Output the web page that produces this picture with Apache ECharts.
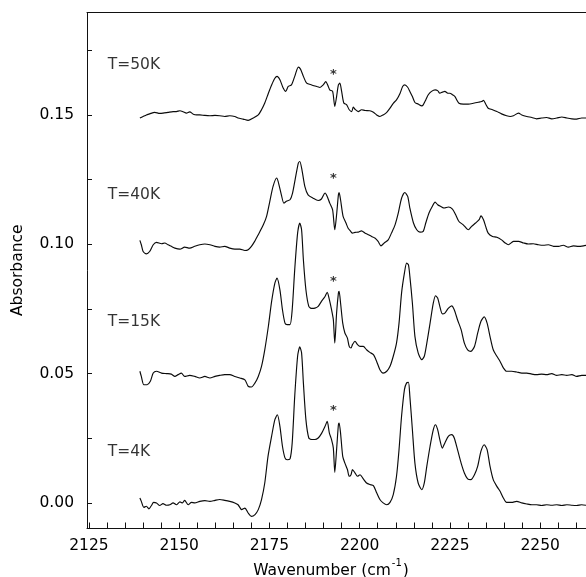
<!DOCTYPE html>
<html>
<head>
<meta charset="utf-8">
<script src="https://cdn.jsdelivr.net/npm/echarts@6/dist/echarts.min.js"></script>
<style>
html,body{margin:0;padding:0;background:#fff;}
#chart{width:586px;height:577px;}
</style>
</head>
<body>
<div id="chart"></div>
<script>
// ---- data (wavenumber cm^-1, absorbance) ----
const spectrum50K = [[2139.1,0.1488],[2140.0,0.1494],[2140.9,0.1500],[2141.8,0.1504],[2143.2,0.1510],[2144.6,0.1506],[2145.5,0.1507],[2146.9,0.1510],[2148.3,0.1513],[2149.2,0.1513],[2150.2,0.1516],[2151.1,0.1512],[2152.0,0.1507],[2152.9,0.1512],[2153.9,0.1503],[2154.8,0.1500],[2155.7,0.1500],[2157.1,0.1498],[2158.5,0.1497],[2159.9,0.1498],[2161.2,0.1497],[2162.6,0.1494],[2164.0,0.1497],[2165.4,0.1494],[2166.3,0.1488],[2167.7,0.1484],[2169.1,0.1479],[2170.5,0.1488],[2171.9,0.1500],[2172.8,0.1520],[2173.7,0.1546],[2174.7,0.1584],[2175.6,0.1616],[2176.5,0.1642],[2177.1,0.1649],[2177.9,0.1636],[2178.8,0.1604],[2179.5,0.1591],[2180.2,0.1610],[2181.1,0.1616],[2182.0,0.1649],[2183.0,0.1685],[2183.6,0.1677],[2184.4,0.1649],[2185.3,0.1623],[2186.7,0.1616],[2188.1,0.1610],[2189.0,0.1606],[2189.9,0.1616],[2190.6,0.1629],[2191.3,0.1610],[2191.7,0.1597],[2192.5,0.1591],[2193.1,0.1533],[2193.6,0.1571],[2194.1,0.1616],[2194.5,0.1623],[2195.0,0.1591],[2195.6,0.1546],[2196.4,0.1539],[2197.1,0.1520],[2197.8,0.1513],[2198.2,0.1530],[2198.7,0.1522],[2199.6,0.1513],[2200.5,0.1520],[2201.5,0.1517],[2202.8,0.1516],[2203.8,0.1510],[2204.7,0.1500],[2205.6,0.1494],[2206.5,0.1500],[2207.5,0.1510],[2208.4,0.1526],[2209.3,0.1545],[2210.2,0.1558],[2211.2,0.1584],[2211.9,0.1610],[2212.5,0.1616],[2213.3,0.1607],[2213.9,0.1591],[2214.6,0.1571],[2215.3,0.1548],[2216.2,0.1542],[2217.2,0.1535],[2217.6,0.1539],[2218.3,0.1558],[2219.0,0.1578],[2219.9,0.1591],[2220.9,0.1597],[2221.6,0.1594],[2222.2,0.1584],[2222.9,0.1588],[2223.6,0.1591],[2224.4,0.1584],[2225.0,0.1584],[2225.7,0.1578],[2226.4,0.1571],[2226.9,0.1558],[2227.5,0.1545],[2228.7,0.1542],[2230.1,0.1542],[2231.5,0.1545],[2232.9,0.1549],[2233.8,0.1552],[2234.3,0.1556],[2234.9,0.1542],[2235.6,0.1526],[2236.8,0.1520],[2238.0,0.1513],[2239.3,0.1504],[2240.7,0.1497],[2241.7,0.1494],[2242.6,0.1497],[2244.0,0.1507],[2244.9,0.1500],[2246.3,0.1494],[2247.7,0.1490],[2249.0,0.1485],[2250.4,0.1488],[2251.8,0.1490],[2253.2,0.1485],[2254.6,0.1488],[2256.0,0.1492],[2257.4,0.1488],[2258.8,0.1485],[2260.1,0.1484],[2261.5,0.1488],[2262.7,0.1488]];

const spectrum40K = [[2139.1,0.1015],[2139.5,0.0998],[2140.0,0.0972],[2140.9,0.0963],[2141.8,0.0972],[2142.8,0.0998],[2143.7,0.1007],[2145.1,0.1002],[2146.0,0.1005],[2146.9,0.0998],[2147.8,0.0992],[2148.8,0.0985],[2150.2,0.0981],[2151.5,0.0989],[2152.9,0.0985],[2154.3,0.0992],[2155.7,0.0998],[2157.1,0.1001],[2158.5,0.0998],[2159.9,0.0992],[2161.2,0.0989],[2162.6,0.0992],[2164.0,0.0985],[2165.4,0.0981],[2166.8,0.0981],[2168.2,0.0976],[2169.1,0.0979],[2170.0,0.0992],[2170.9,0.1011],[2171.9,0.1037],[2173.3,0.1075],[2174.2,0.1108],[2175.1,0.1166],[2176.0,0.1224],[2177.0,0.1256],[2177.4,0.1243],[2178.3,0.1191],[2179.0,0.1159],[2179.7,0.1166],[2180.7,0.1172],[2181.4,0.1198],[2182.1,0.1249],[2183.0,0.1314],[2183.4,0.1320],[2184.0,0.1288],[2184.8,0.1224],[2185.7,0.1191],[2187.1,0.1178],[2188.5,0.1169],[2189.4,0.1175],[2190.4,0.1198],[2191.0,0.1185],[2191.7,0.1159],[2192.5,0.1133],[2193.1,0.1056],[2193.6,0.1114],[2194.1,0.1191],[2194.3,0.1200],[2194.7,0.1172],[2195.4,0.1108],[2196.2,0.1082],[2196.8,0.1062],[2197.5,0.1050],[2198.0,0.1043],[2198.7,0.1046],[2199.6,0.1047],[2200.5,0.1052],[2201.5,0.1043],[2202.4,0.1037],[2203.3,0.1030],[2204.2,0.1024],[2205.1,0.1011],[2205.9,0.0994],[2206.8,0.1005],[2207.9,0.1017],[2208.8,0.1043],[2209.8,0.1075],[2210.7,0.1121],[2211.6,0.1178],[2212.5,0.1200],[2213.3,0.1185],[2213.9,0.1140],[2214.9,0.1082],[2215.8,0.1056],[2216.7,0.1047],[2217.6,0.1050],[2218.3,0.1082],[2219.2,0.1121],[2220.1,0.1146],[2220.9,0.1163],[2221.6,0.1153],[2222.5,0.1146],[2223.4,0.1140],[2224.6,0.1144],[2225.7,0.1136],[2226.6,0.1114],[2227.5,0.1088],[2228.7,0.1075],[2230.1,0.1056],[2231.0,0.1069],[2232.1,0.1082],[2233.1,0.1095],[2233.6,0.1110],[2234.3,0.1095],[2234.9,0.1069],[2235.6,0.1043],[2236.8,0.1030],[2238.0,0.1027],[2239.3,0.1017],[2240.3,0.1005],[2241.2,0.0998],[2242.6,0.1011],[2244.0,0.1011],[2245.4,0.1005],[2246.7,0.1001],[2248.1,0.1002],[2249.5,0.0998],[2250.9,0.0996],[2252.3,0.0998],[2253.7,0.0992],[2255.1,0.0992],[2256.4,0.0996],[2257.8,0.0989],[2259.2,0.0994],[2260.6,0.0992],[2262.0,0.0994],[2262.7,0.0996]];

const spectrum15K = [[2139.1,0.0509],[2139.5,0.0489],[2140.2,0.0457],[2141.1,0.0457],[2142.0,0.0470],[2142.8,0.0502],[2143.7,0.0509],[2145.1,0.0502],[2146.5,0.0500],[2147.8,0.0498],[2148.8,0.0489],[2149.7,0.0496],[2150.6,0.0502],[2151.5,0.0489],[2152.9,0.0493],[2154.3,0.0489],[2155.7,0.0483],[2157.1,0.0489],[2158.5,0.0483],[2159.9,0.0489],[2161.2,0.0493],[2162.6,0.0496],[2164.0,0.0496],[2165.4,0.0489],[2166.8,0.0483],[2168.2,0.0476],[2169.1,0.0451],[2170.0,0.0448],[2171.0,0.0464],[2171.9,0.0489],[2172.8,0.0528],[2173.7,0.0592],[2174.7,0.0683],[2175.6,0.0779],[2176.5,0.0850],[2177.1,0.0869],[2177.9,0.0824],[2178.6,0.0747],[2179.3,0.0695],[2179.9,0.0689],[2180.7,0.0689],[2181.3,0.0747],[2182.0,0.0902],[2182.8,0.1043],[2183.4,0.1082],[2183.9,0.1056],[2184.4,0.0940],[2185.1,0.0824],[2185.9,0.0760],[2186.7,0.0752],[2187.6,0.0753],[2188.5,0.0760],[2189.4,0.0779],[2190.4,0.0798],[2191.0,0.0814],[2191.6,0.0786],[2192.2,0.0747],[2192.7,0.0708],[2193.1,0.0618],[2193.6,0.0734],[2194.1,0.0811],[2194.3,0.0818],[2194.7,0.0773],[2195.3,0.0695],[2195.9,0.0657],[2196.6,0.0637],[2197.1,0.0605],[2197.6,0.0599],[2198.0,0.0612],[2198.7,0.0625],[2199.4,0.0612],[2200.1,0.0605],[2201.0,0.0605],[2201.9,0.0592],[2202.8,0.0582],[2203.8,0.0573],[2204.7,0.0547],[2205.6,0.0515],[2206.5,0.0502],[2207.5,0.0509],[2208.4,0.0528],[2209.3,0.0567],[2210.2,0.0618],[2210.9,0.0695],[2211.6,0.0811],[2212.4,0.0889],[2213.0,0.0927],[2213.5,0.0921],[2213.9,0.0876],[2214.6,0.0773],[2215.3,0.0644],[2216.2,0.0580],[2217.2,0.0554],[2217.9,0.0567],[2218.6,0.0618],[2219.5,0.0695],[2220.4,0.0773],[2221.0,0.0801],[2221.6,0.0792],[2222.2,0.0760],[2222.9,0.0731],[2223.6,0.0734],[2224.6,0.0753],[2225.5,0.0762],[2226.2,0.0747],[2227.1,0.0708],[2228.1,0.0670],[2229.0,0.0618],[2229.9,0.0592],[2230.8,0.0586],[2231.8,0.0605],[2232.7,0.0657],[2233.6,0.0702],[2234.5,0.0719],[2235.3,0.0695],[2236.1,0.0644],[2237.0,0.0592],[2238.0,0.0567],[2238.9,0.0547],[2239.8,0.0522],[2240.7,0.0509],[2242.1,0.0509],[2243.5,0.0506],[2244.9,0.0502],[2246.3,0.0502],[2247.7,0.0498],[2249.0,0.0496],[2250.4,0.0498],[2251.8,0.0496],[2253.2,0.0500],[2254.6,0.0493],[2256.0,0.0496],[2257.4,0.0493],[2258.8,0.0496],[2260.1,0.0489],[2261.5,0.0493],[2262.7,0.0493]];

const spectrum4K = [[2139.1,0.0019],[2139.5,0.0006],[2140.2,-0.0017],[2140.9,-0.0013],[2141.6,-0.0023],[2142.3,-0.0010],[2142.9,0.0002],[2143.7,0.0000],[2144.6,-0.0010],[2145.5,-0.0003],[2146.5,-0.0009],[2147.4,-0.0007],[2148.3,0.0000],[2149.2,-0.0007],[2150.2,0.0004],[2150.9,0.0000],[2151.5,0.0010],[2152.5,-0.0007],[2153.4,0.0002],[2154.3,0.0000],[2155.7,0.0006],[2157.1,0.0009],[2158.5,0.0006],[2159.9,0.0010],[2161.2,0.0013],[2162.6,0.0010],[2164.0,0.0006],[2165.4,0.0000],[2166.3,-0.0007],[2167.3,-0.0026],[2168.2,-0.0020],[2169.1,-0.0039],[2170.0,-0.0052],[2171.0,-0.0045],[2171.9,-0.0026],[2172.8,0.0013],[2173.7,0.0077],[2174.6,0.0180],[2175.6,0.0258],[2176.5,0.0322],[2177.2,0.0341],[2177.9,0.0296],[2178.6,0.0219],[2179.3,0.0174],[2179.9,0.0167],[2180.7,0.0170],[2181.3,0.0232],[2182.0,0.0412],[2182.8,0.0567],[2183.4,0.0603],[2183.9,0.0580],[2184.4,0.0464],[2185.1,0.0322],[2185.9,0.0251],[2186.7,0.0245],[2187.6,0.0245],[2188.5,0.0251],[2189.4,0.0268],[2190.4,0.0296],[2191.0,0.0315],[2191.6,0.0270],[2192.2,0.0245],[2192.7,0.0212],[2193.1,0.0118],[2193.6,0.0206],[2194.1,0.0302],[2194.3,0.0309],[2194.7,0.0270],[2195.3,0.0180],[2195.9,0.0154],[2196.6,0.0129],[2197.1,0.0103],[2197.6,0.0109],[2198.0,0.0129],[2198.7,0.0116],[2199.4,0.0103],[2200.1,0.0109],[2201.0,0.0093],[2201.9,0.0077],[2202.8,0.0071],[2203.8,0.0067],[2204.7,0.0039],[2205.6,0.0013],[2206.5,0.0000],[2207.5,-0.0007],[2208.4,0.0002],[2209.3,0.0032],[2210.2,0.0103],[2210.9,0.0206],[2211.6,0.0335],[2212.4,0.0438],[2213.0,0.0464],[2213.5,0.0466],[2213.9,0.0412],[2214.6,0.0283],[2215.3,0.0154],[2216.2,0.0077],[2217.2,0.0051],[2217.9,0.0077],[2218.6,0.0142],[2219.5,0.0219],[2220.4,0.0283],[2221.0,0.0302],[2221.6,0.0283],[2222.2,0.0245],[2222.9,0.0212],[2223.6,0.0232],[2224.6,0.0258],[2225.5,0.0264],[2226.2,0.0251],[2227.1,0.0206],[2228.1,0.0154],[2229.0,0.0116],[2229.9,0.0093],[2230.8,0.0090],[2231.8,0.0109],[2232.7,0.0142],[2233.6,0.0200],[2234.5,0.0225],[2235.3,0.0206],[2236.1,0.0142],[2237.0,0.0090],[2238.0,0.0064],[2238.9,0.0045],[2239.8,0.0019],[2240.7,0.0002],[2242.1,0.0002],[2243.5,0.0006],[2244.9,0.0000],[2246.3,-0.0004],[2247.7,-0.0007],[2249.0,-0.0007],[2250.4,-0.0010],[2251.8,-0.0007],[2253.2,-0.0009],[2254.6,-0.0007],[2256.0,-0.0010],[2257.4,-0.0007],[2258.8,-0.0009],[2260.1,-0.0010],[2261.5,-0.0007],[2262.7,-0.0009]];

const seriesNames = ['T=50K', 'T=40K', 'T=15K', 'T=4K'];
const xTickValues = [2125,2130,2135,2140,2145,2150,2155,2160,2165,2170,2175,2180,2185,2190,2195,2200,2205,2210,2215,2220,2225,2230,2235,2240,2245,2250,2255,2260];
const xLabelValues = [2125, 2150, 2175, 2200, 2225, 2250];
const yTickValues = [0, 0.025, 0.05, 0.075, 0.1, 0.125, 0.15, 0.175];
const yLabelValues = [0, 0.05, 0.1, 0.15];

// annotation anchors (data coordinates)
const tempLabelAnchors = [[2130.2, 0.1694], [2130.2, 0.1191], [2130.2, 0.0698], [2130.2, 0.0198]];
const starAnchors = [[2192.7, 0.1668], [2192.7, 0.1265], [2192.7, 0.0869], [2192.7, 0.0369]];

const X_MIN = 2124.45, X_MAX = 2262.7;
const Y_MIN = -0.0097, Y_MAX = 0.1896;

const FONT = 'DejaVu Sans';
const FS = 15.5;
const INK = '#111';

const chart = echarts.init(document.getElementById('chart'), null, {renderer: 'canvas'});

const spectra = [spectrum50K, spectrum40K, spectrum15K, spectrum4K];
const lineSeries = spectra.map((d, i) => ({
  name: seriesNames[i],
  type: 'line',
  data: d,
  showSymbol: false,
  symbol: 'none',
  smooth: 0.25,
  lineStyle: {color: '#0a0a0a', width: 1.15},
  silent: true,
  z: 3
}));

const option = {
  animation: false,
  backgroundColor: '#fff',
  grid: {left: 87, right: 0, top: 12.5, bottom: 49, containLabel: false, outerBoundsMode: 'none'},
  xAxis: [{
    type: 'value', min: X_MIN, max: X_MAX, position: 'bottom',
    axisLine: {show: true, onZero: false, lineStyle: {color: INK, width: 1}},
    axisTick: {show: true, inside: true, length: 5.5, customValues: xTickValues, lineStyle: {color: INK}},
    axisLabel: {show: true, customValues: xLabelValues, margin: 10, color: '#000', fontFamily: FONT, fontSize: FS,
      formatter: v => String(Math.round(v))},
    splitLine: {show: false},
    name: '{t|Wavenumber (cm}{s|-1}{t|)}',
    nameLocation: 'middle', nameGap: 25,
    nameTextStyle: {
      padding: [0, 11, 0, 0],
      rich: {
        t: {fontFamily: FONT, fontSize: FS, color: '#000', lineHeight: 20, verticalAlign: 'bottom'},
        s: {fontFamily: FONT, fontSize: 10, color: '#000', lineHeight: 20, verticalAlign: 'top', padding: [0,1,8,1]}
      }
    }
  }, {
    type: 'value', min: X_MIN, max: X_MAX, position: 'top',
    axisLine: {show: true, onZero: false, lineStyle: {color: INK, width: 1}},
    axisTick: {show: false}, axisLabel: {show: false}, splitLine: {show: false}
  }],
  yAxis: [{
    type: 'value', min: Y_MIN, max: Y_MAX,
    axisLine: {show: true, onZero: false, lineStyle: {color: INK, width: 1}},
    axisTick: {show: true, inside: true, length: 5, customValues: yTickValues, lineStyle: {color: INK}},
    axisLabel: {show: true, customValues: yLabelValues, margin: 13, color: '#000', fontFamily: FONT, fontSize: FS,
      formatter: v => v.toFixed(2)},
    splitLine: {show: false},
    name: 'Absorbance', nameLocation: 'middle', nameGap: 61,
    nameTextStyle: {fontFamily: FONT, fontSize: FS, color: '#000'}
  }],
  series: lineSeries.concat([
    {
      type: 'scatter', data: tempLabelAnchors, symbolSize: 0, silent: true, z: 4,
      label: {show: true, position: [0, 0], align: 'left', verticalAlign: 'middle',
        formatter: p => seriesNames[p.dataIndex], fontFamily: FONT, fontSize: FS, color: '#000'}
    },
    {
      type: 'scatter', data: starAnchors, symbolSize: 0, silent: true, z: 4,
      label: {show: true, position: [0, 0], align: 'center', verticalAlign: 'middle', offset: [0, 3],
        formatter: '*', fontFamily: FONT, fontSize: 13, fontWeight: 'bold', color: '#000'}
    }
  ])
};
chart.setOption(option);
</script>
</body>
</html>
